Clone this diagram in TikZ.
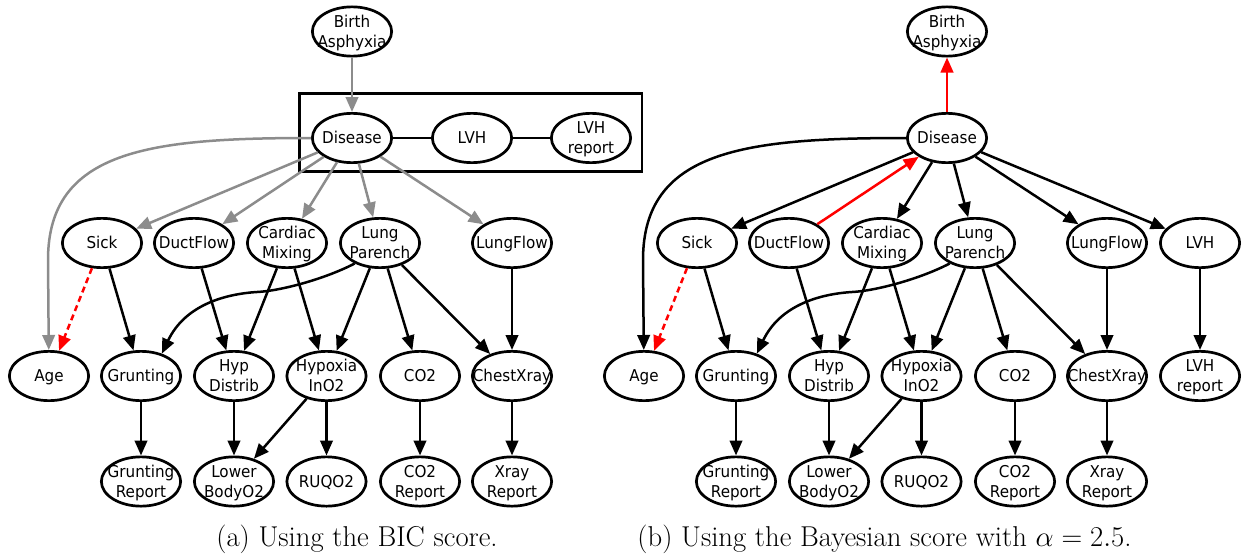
\documentclass[tikz,border=0pt]{standalone}
\usepackage{fix-cm}
\usepackage{fontspec}
\usetikzlibrary{arrows.meta,shapes.geometric}
\newfontfamily\nodefont[FakeStretch=0.93]{DejaVu Sans}
% one strut per label line keeps single and double lines centred alike
\newcommand{\nlstrut}{\rule[-4.1pt]{0pt}{20pt}}
\newcommand{\nlone}[1]{#1\nlstrut}
\newcommand{\nltwo}[2]{#1\nlstrut\\#2\nlstrut}
\definecolor{arrowgray}{RGB}{140,140,140}
\tikzset{
  bn/.style={draw, ellipse, line width=2.7pt, minimum width=79.3pt, minimum height=49.3pt, inner sep=0pt},
  lb/.style={font=\nodefont\fontsize{16.3}{20}\selectfont, align=center, inner sep=0pt},
  ln/.style={line width=2.5pt},
  ed/.style={line width=2.5pt, -{Triangle[length=15pt,width=12.5pt]}},
  gr/.style={ed, draw=arrowgray},
  rd/.style={ed, draw=red},
  rdd/.style={rd, dash pattern=on 6pt off 4pt},
  captxt/.style={font=\fontsize{28.7}{34}\selectfont, anchor=base, inner sep=0pt}
}
\begin{document}
\begin{tikzpicture}[x=1pt,y=-1pt]
\useasboundingbox (0,0) rectangle (1249,554);

% ---------- (a) BIC score ----------
\node[draw, line width=2.7pt, minimum width=342.5pt, minimum height=78pt, inner sep=0pt] (clusterA) at (470.75,132.5) {};
\node[bn, label={[lb]center:\nltwo{Birth}{Asphyxia}}] (baA) at (352,31.5) {};
\node[bn, label={[lb]center:\nlone{Disease}}] (disA) at (352,138) {};
\node[bn, label={[lb]center:\nlone{LVH}}] (lvhA) at (472,138) {};
\node[bn, label={[lb]center:\nltwo{LVH}{report}}] (lvhrA) at (591,138) {};
\node[bn, label={[lb]center:\nlone{Sick}}] (sickA) at (102,243) {};
\node[bn, label={[lb]center:\nlone{DuctFlow}}] (ductA) at (194,243) {};
\node[bn, label={[lb]center:\nltwo{Cardiac}{Mixing}}] (cardA) at (287,243) {};
\node[bn, label={[lb]center:\nltwo{Lung}{Parench}}] (lungA) at (380,243) {};
\node[bn, label={[lb]center:\nlone{LungFlow}}] (lflowA) at (512,243) {};
\node[bn, label={[lb]center:\nlone{Age}}] (ageA) at (49,376) {};
\node[bn, label={[lb]center:\nlone{Grunting}}] (gruntA) at (141,376) {};
\node[bn, label={[lb]center:\nltwo{Hyp}{Distrib}}] (hypA) at (234,376) {};
\node[bn, label={[lb]center:\nltwo{Hypoxia}{InO2}}] (hypoxA) at (326.5,376) {};
\node[bn, label={[lb]center:\nlone{CO2}}] (co2A) at (420,376) {};
\node[bn, label={[lb]center:\nlone{ChestXray}}] (chestA) at (512,376) {};
\node[bn, label={[lb]center:\nltwo{Grunting}{Report}}] (grepA) at (141,481.5) {};
\node[bn, label={[lb]center:\nltwo{Lower}{BodyO2}}] (lowerA) at (234,481.5) {};
\node[bn, label={[lb]center:\nlone{RUQO2}}] (ruqA) at (326.5,481.5) {};
\node[bn, label={[lb]center:\nltwo{CO2}{Report}}] (co2rA) at (420,481.5) {};
\node[bn, label={[lb]center:\nltwo{Xray}{Report}}] (xrayA) at (512,481.5) {};

\draw[gr] (baA) -- (disA);
\draw[ln] (disA) -- (lvhA);
\draw[ln] (lvhA) -- (lvhrA);
\draw[gr] (disA.180) .. controls (150,138) and (48,150) .. (48,260) -- (ageA);
\draw[gr] (disA) -- (sickA);
\draw[gr] (disA) -- (ductA);
\draw[gr] (disA) -- (cardA);
\draw[gr] (disA) -- (lungA);
\draw[gr] (disA) -- (lflowA);
\draw[rdd] (sickA) -- (ageA);
\draw[ed] (sickA) -- (gruntA);
\draw[ed] (ductA) -- (hypA);
\draw[ed] (cardA) -- (hypA);
\draw[ed] (cardA) -- (hypoxA);
\draw[ed] (lungA.219) .. controls (325,279) and (280,291) .. (257,292)
          .. controls (225,294) and (185,305) .. (gruntA.47);
\draw[ed] (lungA) -- (hypoxA);
\draw[ed] (lungA) -- (co2A);
\draw[ed] (lungA) -- (chestA);
\draw[ed] (lflowA) -- (chestA);
\draw[ed] (gruntA) -- (grepA);
\draw[ed] (hypA) -- (lowerA);
\draw[ed] (hypoxA) -- (lowerA);
\draw[ed] (hypoxA) -- (ruqA);
\draw[ed] (co2A) -- (co2rA);
\draw[ed] (chestA) -- (xrayA);

\node[captxt] (capA) at (357,546) {(a) Using the BIC score.};

% ---------- (b) Bayesian score ----------
\node[bn, label={[lb]center:\nltwo{Birth}{Asphyxia}}] (baB) at (947,31.5) {};
\node[bn, label={[lb]center:\nlone{Disease}}] (disB) at (947,138) {};
\node[bn, label={[lb]center:\nlone{Sick}}] (sickB) at (697,243) {};
\node[bn, label={[lb]center:\nlone{DuctFlow}}] (ductB) at (789,243) {};
\node[bn, label={[lb]center:\nltwo{Cardiac}{Mixing}}] (cardB) at (882,243) {};
\node[bn, label={[lb]center:\nltwo{Lung}{Parench}}] (lungB) at (975,243) {};
\node[bn, label={[lb]center:\nlone{LungFlow}}] (lflowB) at (1107,243) {};
\node[bn, label={[lb]center:\nlone{LVH}}] (lvhB) at (1200,243) {};
\node[bn, label={[lb]center:\nlone{Age}}] (ageB) at (644,376) {};
\node[bn, label={[lb]center:\nlone{Grunting}}] (gruntB) at (736,376) {};
\node[bn, label={[lb]center:\nltwo{Hyp}{Distrib}}] (hypB) at (829,376) {};
\node[bn, label={[lb]center:\nltwo{Hypoxia}{InO2}}] (hypoxB) at (921.5,376) {};
\node[bn, label={[lb]center:\nlone{CO2}}] (co2B) at (1015,376) {};
\node[bn, label={[lb]center:\nlone{ChestXray}}] (chestB) at (1107,376) {};
\node[bn, label={[lb]center:\nltwo{LVH}{report}}] (lvhrB) at (1200,376) {};
\node[bn, label={[lb]center:\nltwo{Grunting}{Report}}] (grepB) at (736,481.5) {};
\node[bn, label={[lb]center:\nltwo{Lower}{BodyO2}}] (lowerB) at (829,481.5) {};
\node[bn, label={[lb]center:\nlone{RUQO2}}] (ruqB) at (921.5,481.5) {};
\node[bn, label={[lb]center:\nltwo{CO2}{Report}}] (co2rB) at (1015,481.5) {};
\node[bn, label={[lb]center:\nltwo{Xray}{Report}}] (xrayB) at (1107,481.5) {};

\draw[rd] (disB) -- (baB);
\draw[rd] (ductB) -- (disB);
\draw[ed] (disB.180) .. controls (745,138) and (643,150) .. (643,260) -- (ageB);
\draw[ed] (disB) -- (sickB);
\draw[ed] (disB) -- (cardB);
\draw[ed] (disB) -- (lungB);
\draw[ed] (disB) -- (lflowB);
\draw[ed] (disB) -- (lvhB);
\draw[rdd] (sickB) -- (ageB);
\draw[ed] (sickB) -- (gruntB);
\draw[ed] (ductB) -- (hypB);
\draw[ed] (cardB) -- (hypB);
\draw[ed] (cardB) -- (hypoxB);
\draw[ed] (lungB.219) .. controls (920,279) and (875,291) .. (852,292)
          .. controls (820,294) and (780,305) .. (gruntB.47);
\draw[ed] (lungB) -- (hypoxB);
\draw[ed] (lungB) -- (co2B);
\draw[ed] (lungB) -- (chestB);
\draw[ed] (lflowB) -- (chestB);
\draw[ed] (lvhB) -- (lvhrB);
\draw[ed] (gruntB) -- (grepB);
\draw[ed] (hypB) -- (lowerB);
\draw[ed] (hypoxB) -- (lowerB);
\draw[ed] (hypoxB) -- (ruqB);
\draw[ed] (co2B) -- (co2rB);
\draw[ed] (chestB) -- (xrayB);

\node[captxt] (capB) at (884.5,546) {(b) Using the Bayesian score with $\alpha = 2.5$.};
\end{tikzpicture}
\end{document}
